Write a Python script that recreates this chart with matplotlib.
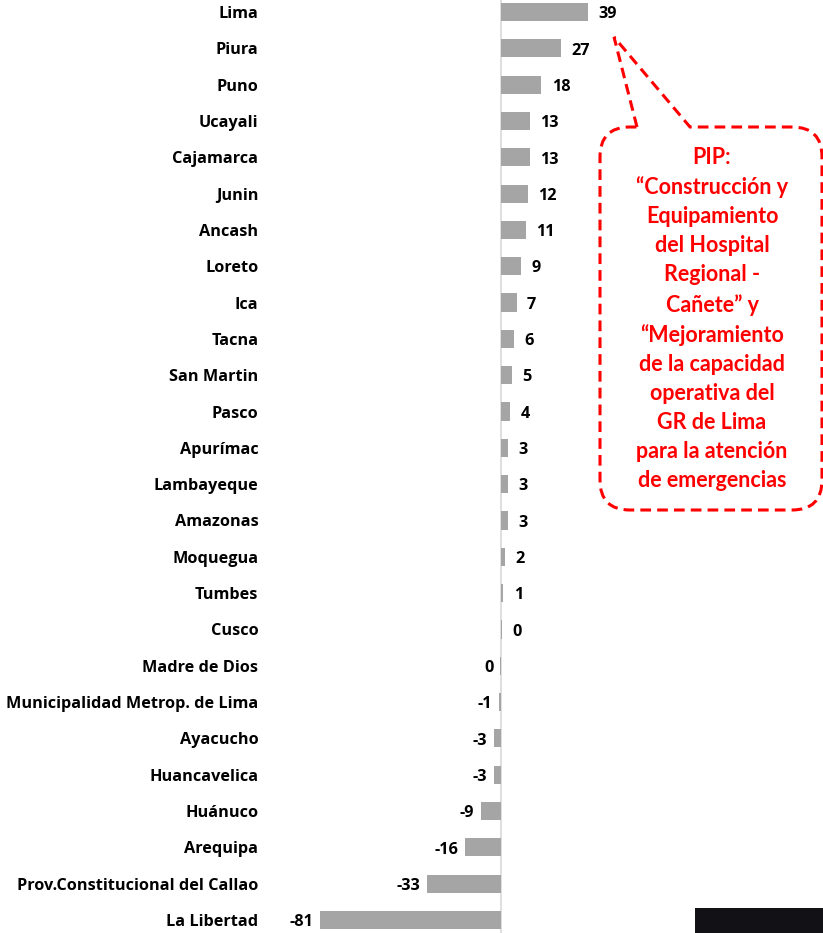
import matplotlib
matplotlib.use("Agg")
import matplotlib.pyplot as plt
from matplotlib.path import Path
from matplotlib.patches import PathPatch, Rectangle

categories = ["Lima", "Piura", "Puno", "Ucayali", "Cajamarca", "Junin", "Ancash",
              "Loreto", "Ica", "Tacna", "San Martin", "Pasco", "Apurímac",
              "Lambayeque", "Amazonas", "Moquegua", "Tumbes", "Cusco",
              "Madre de Dios", "Municipalidad Metrop. de Lima", "Ayacucho",
              "Huancavelica", "Huánuco", "Arequipa",
              "Prov.Constitucional del Callao", "La Libertad"]
values = [39, 27, 18, 13, 13, 12, 11, 9, 7, 6, 5, 4, 3, 3, 3, 2, 1, 0.3,
          -0.3, -1, -3, -3, -9, -16, -33, -81]
callout_text = ("PIP:\n“Construcción y\nEquipamiento\ndel Hospital\nRegional -\n"
                "Cañete” y\n“Mejoramiento\nde la capacidad\noperativa del\n"
                "GR de Lima\npara la atención\nde emergencias")

plt.rcParams['font.family'] = ['Open Sans', 'DejaVu Sans']
LAB_FONT = ['Open Sans', 'DejaVu Sans']
CALL_FONT = ['Lato', 'DejaVu Sans']

W, H = 823, 933
fig = plt.figure(figsize=(W / 100, H / 100), dpi=100)
ax_left = 300
ax = fig.add_axes([ax_left / W, 0, (W - ax_left) / W, 1])

scale = (501 - 320) / 81.0
ax.set_xlim(-(501 - ax_left) / scale, (W - 501) / scale)
spacing = (920 - 12) / 25.0
ax.set_ylim(25 + (H - 920) / spacing, -12 / spacing)

ypos = list(range(len(categories)))
ax.barh(ypos, values, height=0.5, color="#a5a5a5", zorder=2)
ax.axvline(0, color="#d9d9d9", lw=1.2, zorder=1)

for y, v in zip(ypos, values):
    lab = f"{round(v):d}"
    if v >= 0:
        ax.annotate(lab, (v, y), xytext=(7.5, -4.5), textcoords="offset points",
                    ha="left", va="baseline", fontsize=11.7, fontweight="bold",
                    family=LAB_FONT)
    else:
        ax.annotate(lab, (v, y), xytext=(-5, -4.5), textcoords="offset points",
                    ha="right", va="baseline", fontsize=11.7, fontweight="bold",
                    family=LAB_FONT)

ax.set_yticks(ypos)
ax.set_yticklabels(categories, fontsize=11.7, fontweight="bold", family=LAB_FONT)
ax.tick_params(axis="y", length=0, pad=30)
ax.set_xticks([])
for s in ax.spines.values():
    s.set_visible(False)

# callout shape (pixel coordinates -> figure fraction)
L, R, T, B, r = 600, 822, 127, 510, 30
pts = [(637, T), (614, 37), (690, T), (R - r, T), (R, T), (R, T + r),
       (R, B - r), (R, B), (R - r, B), (L + r, B), (L, B), (L, B - r),
       (L, T + r), (L, T), (L + r, T), (637, T)]
codes = [Path.MOVETO, Path.LINETO, Path.LINETO, Path.LINETO, Path.CURVE3, Path.CURVE3,
         Path.LINETO, Path.CURVE3, Path.CURVE3, Path.LINETO, Path.CURVE3, Path.CURVE3,
         Path.LINETO, Path.CURVE3, Path.CURVE3, Path.LINETO]
pts_f = [(x / W, 1 - y / H) for x, y in pts]
patch = PathPatch(Path(pts_f, codes), transform=fig.transFigure, facecolor="white",
                  edgecolor="#ff0000", lw=2.2, ls=(0, (3.5, 2)), zorder=5)
fig.patches.append(patch)
fig.text(712 / W, 1 - 319 / H, callout_text, ha="center", va="center", color="#ff0000",
         fontsize=15.5, fontweight="bold", linespacing=1.47, zorder=6, family=CALL_FONT)

fig.patches.append(Rectangle((695 / W, 0), (W - 695) / W, 25 / H, transform=fig.transFigure,
                             facecolor="#121216", edgecolor="none"))

fig.savefig("out.png", dpi=100)
